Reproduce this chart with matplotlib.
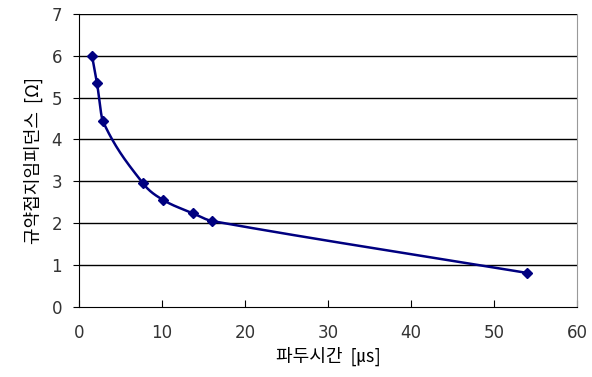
import numpy as np
import matplotlib
matplotlib.use("Agg")
import matplotlib.pyplot as plt

plt.rcParams['font.family'] = ['Noto Sans CJK KR', 'DejaVu Sans']

# wave-front time [us] and conventional grounding impedance [ohm]
front_time = [1.6, 2.2, 2.9, 7.7, 10.2, 13.7, 16.1, 54.0]
impedance = [6.0, 5.35, 4.44, 2.96, 2.55, 2.24, 2.05, 0.81]

x_ticks = [0, 10, 20, 30, 40, 50, 60]
y_ticks = [0, 1, 2, 3, 4, 5, 6, 7]


def smooth(x, y, n=40):
    """Cardinal cubic in x: slope at each point from its two neighbours."""
    x = np.asarray(x, float)
    y = np.asarray(y, float)
    h = np.diff(x)
    m = np.empty_like(y)
    m[0] = (y[1] - y[0]) / h[0]
    m[-1] = (y[-1] - y[-2]) / h[-1]
    m[1:-1] = (y[2:] - y[:-2]) / (x[2:] - x[:-2])
    xs, ys = [], []
    for i in range(len(x) - 1):
        t = np.linspace(0, 1, n)
        h00 = 2 * t ** 3 - 3 * t ** 2 + 1
        h10 = t ** 3 - 2 * t ** 2 + t
        h01 = -2 * t ** 3 + 3 * t ** 2
        h11 = t ** 3 - t ** 2
        xs.extend(x[i] + t * h[i])
        ys.extend(h00 * y[i] + h10 * h[i] * m[i] + h01 * y[i + 1]
                  + h11 * h[i] * m[i + 1])
    return xs, ys


fig = plt.figure(figsize=(5.92, 3.77), dpi=100)
ax = fig.add_axes([0.133, 0.186, 0.842, 0.777])

for v in y_ticks[1:]:
    ax.axhline(v, color='black', lw=1.0, zorder=1)

sx, sy = smooth(front_time, impedance)
ax.plot(sx, sy, color='#000080', lw=1.8, zorder=3)
ax.plot(front_time, impedance, linestyle='none', marker='D', ms=5,
        color='#000080', zorder=4)

ax.set_xlim(0, 60)
ax.set_ylim(0, 7)
ax.set_xticks(x_ticks)
ax.set_yticks(y_ticks)
ax.tick_params(axis='x', direction='in', length=5, labelsize=12, pad=12,
               labelcolor='#333333')
ax.tick_params(axis='y', direction='out', length=4, labelsize=12, pad=8,
               labelcolor='#333333')
for lab in ax.get_xticklabels() + ax.get_yticklabels():
    lab.set_family(['DejaVu Sans'])

ax.spines['top'].set_visible(False)
ax.spines['right'].set_color('#999999')
ax.spines['left'].set_color('black')
ax.spines['bottom'].set_color('black')

ax.set_xlabel('파두시간  [㎲]', fontsize=13, labelpad=4)
ax.set_ylabel('규약접지임피던스  [Ω]', fontsize=13, labelpad=6)

fig.savefig('out.png', dpi=100)
